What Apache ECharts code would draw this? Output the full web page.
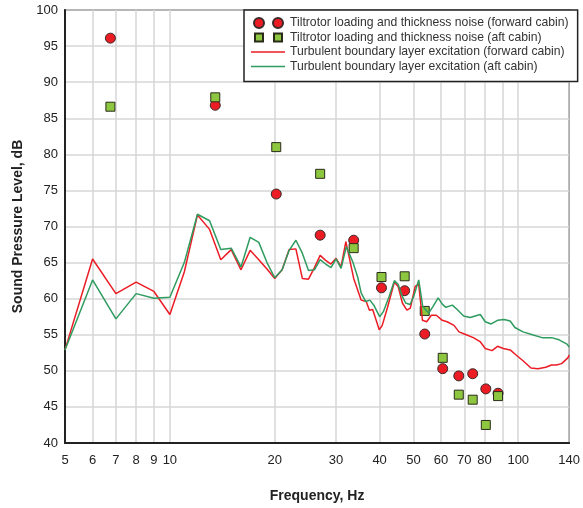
<!DOCTYPE html>
<html>
<head>
<meta charset="utf-8">
<script src="https://cdn.jsdelivr.net/npm/echarts@6/dist/echarts.min.js"></script>
<style>
html,body{margin:0;padding:0;background:#fff;}
#chart{width:583px;height:508px;}
</style>
</head>
<body>
<div id="chart"></div>
<script>
// ---- data ----
const toneFreq   = [6.75, 13.5, 20.2, 27.0, 33.7, 40.5, 47.2, 53.9, 60.7, 67.5, 74.0, 80.7, 87.5];
const toneFwdDb  = [96.1, 86.8, 74.5, 68.8, 68.1, 61.5, 61.1, 55.1, 50.3, 49.3, 49.6, 47.5, 46.9];
const toneAftDb  = [86.6, 87.9, 81.0, 77.3, 67.0, 63.0, 63.1, 58.3, 51.8, 46.7, 46.0, 42.5, 46.5];

const tblFwdFreq = [5, 6, 7, 8, 9, 10, 11, 12, 13, 14, 15, 16, 17, 18, 19, 20, 21, 22, 23, 24, 25, 26, 27, 28, 29, 30, 31, 32, 33.3, 33.7, 35.4, 36.6, 37.4, 38.2, 39.1, 39.9, 40.7, 42.1, 44.1, 45.2, 46.5, 47.9, 49.0, 50.6, 51.8, 53.1, 54.6, 56.3, 58.2, 60.5, 62.5, 65.4, 67.6, 70.9, 74.3, 77.9, 80.4, 84.1, 87.2, 90.6, 94.8, 98.6, 103.2, 108.8, 113.9, 120, 124.5, 128.7, 133.2, 138.8, 140];
const tblFwdDb   = [52.9, 65.5, 60.7, 62.3, 61.0, 57.8, 63.7, 71.6, 69.6, 65.4, 66.8, 64.0, 66.7, 65.4, 64.1, 62.8, 64.0, 66.8, 66.9, 62.8, 62.7, 64.3, 66.0, 65.3, 64.8, 65.6, 64.4, 67.9, 64.0, 62.8, 59.8, 59.6, 58.4, 58.5, 57.0, 55.7, 56.3, 58.7, 62.3, 61.7, 59.4, 58.4, 58.7, 61.7, 62.0, 57.0, 56.8, 57.7, 57.7, 57.0, 56.8, 56.3, 55.4, 55.0, 54.6, 54.0, 53.1, 52.8, 53.4, 53.1, 52.9, 52.2, 51.4, 50.4, 50.3, 50.5, 50.8, 50.8, 51.0, 51.8, 52.2];

const tblAftFreq = [5, 6, 7, 8, 9, 10, 11, 12, 13, 14, 15, 16, 17, 18, 19, 20, 21, 22, 23, 24, 25, 26, 27, 28, 29, 30, 31, 32.1, 33.5, 34.6, 35.4, 36.5, 37.5, 38.5, 40.0, 41.0, 42.6, 44.1, 45.2, 46.3, 47.5, 48.9, 50.1, 51.8, 53.2, 55.3, 56.9, 58.9, 60.6, 62.0, 64.7, 66.8, 69.7, 72.8, 75.2, 77.8, 80.4, 83.6, 87.2, 91.1, 94.8, 97.8, 103.2, 109.8, 117, 124.6, 131, 138, 140];
const tblAftDb   = [52.9, 62.6, 57.2, 60.7, 60.05, 60.2, 65.0, 71.7, 70.8, 66.8, 67.0, 64.4, 68.5, 67.8, 65.0, 62.9, 64.0, 66.7, 68.1, 66.3, 63.9, 64.0, 65.4, 64.8, 64.3, 65.5, 64.2, 67.2, 65.1, 63.0, 60.8, 59.6, 59.8, 59.1, 57.5, 58.2, 60.3, 62.5, 62.0, 60.5, 59.4, 59.2, 60.3, 62.6, 58.9, 58.0, 58.9, 60.1, 59.2, 58.8, 59.1, 58.5, 57.6, 57.4, 57.6, 57.8, 56.8, 56.5, 57.0, 57.1, 56.9, 56.0, 55.4, 55.0, 54.6, 54.6, 54.3, 53.7, 53.3];

const xGridValues  = [5, 6, 7, 8, 9, 10, 20, 30, 40, 50, 60, 70, 80, 90, 100, 140];
const xLabelValues = [5, 6, 7, 8, 9, 10, 20, 30, 40, 50, 60, 70, 80, 100, 140];

const seriesNames = [
  'Tiltrotor loading and thickness noise (forward cabin)',
  'Tiltrotor loading and thickness noise (aft cabin)',
  'Turbulent boundary layer excitation (forward cabin)',
  'Turbulent boundary layer excitation (aft cabin)'
];

const zip = (a, b) => a.map((v, i) => [v, b[i]]);

const FONT = '"Liberation Sans", Arial, Helvetica, sans-serif';
const RED = '#ec1c24';
const GREEN = '#2e9b5f';
const LIME = '#8dc63f';

const chart = echarts.init(document.getElementById('chart'), null, {renderer: 'canvas'});

const circlesIcon = 'path://M0,0 M34,10 M3,5 a5,5 0 1,0 10,0 a5,5 0 1,0 -10,0 Z M22,5 a5,5 0 1,0 10,0 a5,5 0 1,0 -10,0 Z';
const squaresIcon = 'path://M0,0 M34,10 M4,1 h8 v8 h-8 Z M23,1 h8 v8 h-8 Z';
const lineIcon = 'path://M0,0 M34,10 M0,4.3 L34,4.3 L34,5.7 L0,5.7 Z';

chart.setOption({
  animation: false,
  backgroundColor: '#ffffff',
  textStyle: {fontFamily: FONT},
  grid: {
    left: 65, right: 10, top: 10, bottom: 65,
    show: true, borderColor: '#222', borderWidth: 1.5, backgroundColor: 'transparent'
  },
  legend: {
    orient: 'vertical',
    left: 244, top: 10,
    padding: [6, 9, 8, 6],
    itemWidth: 34, itemHeight: 10,
    itemGap: 0.5,
    borderColor: '#222', borderWidth: 1.5, borderRadius: 0,
    backgroundColor: '#fff',
    textStyle: {fontFamily: FONT, fontSize: 12.2, color: '#333', lineHeight: 14},
    data: [
      {name: seriesNames[0], icon: circlesIcon},
      {name: seriesNames[1], icon: squaresIcon},
      {name: seriesNames[2], icon: lineIcon, itemStyle: {color: RED, borderWidth: 0}},
      {name: seriesNames[3], icon: lineIcon, itemStyle: {color: GREEN, borderWidth: 0}}
    ]
  },
  xAxis: {
    type: 'log', logBase: 10, min: 5, max: 140,
    name: 'Frequency, Hz', nameLocation: 'middle', nameGap: 46,
    nameTextStyle: {fontFamily: FONT, fontSize: 14, fontWeight: 'bold', color: '#222'},
    axisLine: {show: true, lineStyle: {color: '#222', width: 2}},
    axisTick: {show: false, customValues: xGridValues},
    axisLabel: {customValues: xLabelValues, fontFamily: FONT, fontSize: 13, color: '#222', margin: 11, showMinLabel: true, showMaxLabel: true},
    splitLine: {show: true, lineStyle: {color: '#d6d6d6', width: 1.5}},
    minorTick: {show: false}, minorSplitLine: {show: false}
  },
  yAxis: {
    type: 'value', min: 40, max: 100, interval: 5,
    name: 'Sound Pressure Level, dB', nameLocation: 'middle', nameGap: 40,
    nameTextStyle: {fontFamily: FONT, fontSize: 14, fontWeight: 'bold', color: '#222'},
    axisLine: {show: true, lineStyle: {color: '#222', width: 2}},
    axisTick: {show: false},
    axisLabel: {fontFamily: FONT, fontSize: 13, color: '#222', margin: 7},
    splitLine: {show: true, lineStyle: {color: '#d6d6d6', width: 1.5}}
  },
  series: [
    {
      name: seriesNames[2], type: 'line', data: zip(tblFwdFreq, tblFwdDb),
      symbol: 'none', showSymbol: false, clip: true,
      lineStyle: {color: RED, width: 1.5}, itemStyle: {color: RED}
    },
    {
      name: seriesNames[3], type: 'line', data: zip(tblAftFreq, tblAftDb),
      symbol: 'none', showSymbol: false, clip: true,
      lineStyle: {color: GREEN, width: 1.5}, itemStyle: {color: GREEN}
    },
    {
      name: seriesNames[0], type: 'scatter', data: zip(toneFreq, toneFwdDb),
      symbol: 'circle', symbolSize: 10,
      itemStyle: {color: RED, borderColor: '#3a2a2a', borderWidth: 1, opacity: 1}
    },
    {
      name: seriesNames[1], type: 'scatter', data: zip(toneFreq, toneAftDb),
      symbol: 'rect', symbolSize: 9,
      itemStyle: {color: LIME, borderColor: '#2a2a1a', borderWidth: 1, opacity: 1}
    }
  ]
});
</script>
</body>
</html>
